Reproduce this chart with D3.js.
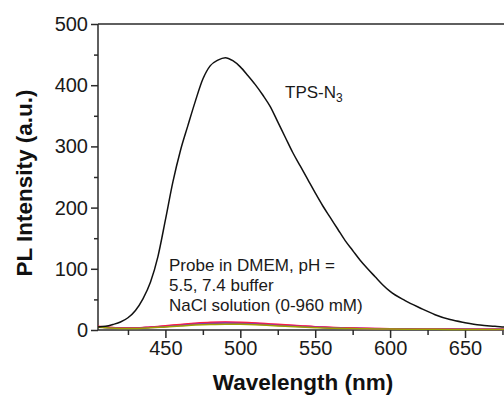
<!DOCTYPE html>
<html>
<head>
<meta charset="utf-8">
<script src="https://cdn.jsdelivr.net/npm/d3@7"></script>
<style>
  body { margin: 0; background: #fff; }
  svg { display: block; font-family: "Liberation Sans", Arial, sans-serif; }
</style>
</head>
<body>
<svg id="chart" width="504" height="396"></svg>
<script>
// wavelength grid (nm) and intensities
var wlMain = [405,410,415,420,425,430,435,440,445,450,455,460,465,470,475,480,485,490,495,500,
              505,510,515,520,525,530,535,540,545,550,555,560,565,570,575,580,585,590,595,600,
              610,620,630,640,650,660,670,680,690,700];
var tpsN3 = [5,6,9,13,20,32,51,78,120,180,242,293,334,374,410,432,441,445,440,430,
             416,401,384,365,340,315,290,268,246,224,203,184,165,146,130,114,100,87,74,63,
             48,36,25,17,12,8,6,4,3,3];

var wlProbe = [405,410,420,430,440,450,460,470,480,490,500,510,520,530,540,550,560,570,580,590,600,620,640,660,680,700];
var probeRed     = [6,5,3.5,3.5,5,7,9,11,12.5,13,12.5,11.5,10,8.5,7,5.5,4.5,3.5,3,2.5,2.2,1.8,1.5,1.3,1.1,1];
var probeMagenta = [5.5,4.5,3.5,3.5,4.5,6.5,8.5,10.5,12,12.5,12,11,9.5,8,6.5,5,4,3.2,2.7,2.3,2,1.6,1.4,1.2,1,1];
var probeBlue    = [5,4,3,3,4.5,6,8,10,11.5,12,11.5,10.5,9,7.5,6,4.8,3.8,3,2.5,2.1,1.9,1.5,1.3,1.1,1,0.9];
var probePurple  = [5,4,3,3,4,5.5,7.5,9.5,10.8,11.3,10.8,10,8.5,7,5.7,4.5,3.5,2.8,2.3,2,1.8,1.4,1.2,1,0.9,0.8];
var probeOlive   = [4.5,3.5,2.5,2.5,3.5,5,6.5,8,9,9.5,9.2,8.5,7.3,6,4.8,3.8,3,2.4,2,1.7,1.5,1.2,1,0.9,0.8,0.7];

var probeSeries = [
  {vals: probeBlue,    color: "#3a3ad8"},
  {vals: probeMagenta, color: "#e040e0"},
  {vals: probeRed,     color: "#ff1a40"},
  {vals: probePurple,  color: "#8a3aa8"},
  {vals: probeOlive,   color: "#a0a000"}
];

var yTicks = [0,100,200,300,400,500];
var yMinor = [50,150,250,350,450];
var xTicks = [450,500,550,600,650];
var xMinor = [425,475,525,575,625,675];

var svg = d3.select("#chart");
var mLeft = 98, mTop = 24, mBottom = 330;

var x = d3.scaleLinear().domain([405, 700]).range([mLeft, mLeft + 295 * 1.498]);
var y = d3.scaleLinear().domain([0, 500]).range([mBottom, mTop]);

var axisCol = "#2a2a2a";

// top frame line
svg.append("line")
  .attr("x1", x(405)).attr("x2", x(700))
  .attr("y1", y(500)).attr("y2", y(500))
  .attr("stroke", axisCol).attr("stroke-width", 1.5);

// y axis
var yAx = svg.append("g").attr("transform", "translate(" + mLeft + ",0)")
  .call(d3.axisLeft(y).tickValues(yTicks).tickSize(7).tickPadding(3).tickFormat(d3.format("d")));
svg.append("g").attr("transform", "translate(" + mLeft + ",0)")
  .call(d3.axisLeft(y).tickValues(yMinor).tickSize(4).tickFormat(""))
  .call(function(g){ g.select(".domain").remove(); });

// x axis
var xAx = svg.append("g").attr("transform", "translate(0," + mBottom + ")")
  .call(d3.axisBottom(x).tickValues(xTicks).tickSize(8).tickPadding(3).tickFormat(d3.format("d")));
svg.append("g").attr("transform", "translate(0," + mBottom + ")")
  .call(d3.axisBottom(x).tickValues(xMinor).tickSize(5).tickFormat(""))
  .call(function(g){ g.select(".domain").remove(); });

svg.selectAll(".domain, .tick line").attr("stroke", axisCol).attr("stroke-width", 1.5);
yAx.select(".domain").attr("d", "M0," + mBottom + "V" + mTop);
xAx.select(".domain").attr("d", "M" + mLeft + ",0H" + x(700));
svg.selectAll(".tick text").attr("font-size", 20).attr("fill", "#1a1a1a")
  .attr("font-family", "'Liberation Sans', Arial, sans-serif");

// curves
var lineP = d3.line().x(function(d){ return x(d[0]); }).y(function(d){ return y(d[1]); }).curve(d3.curveMonotoneX);

probeSeries.forEach(function(s){
  svg.append("path")
    .datum(wlProbe.map(function(w, i){ return [w, s.vals[i]]; }))
    .attr("d", lineP).attr("fill", "none")
    .attr("stroke", s.color).attr("stroke-width", 1.5);
});

svg.append("path")
  .datum(wlMain.map(function(w, i){ return [w, tpsN3[i]]; }))
  .attr("d", lineP).attr("fill", "none")
  .attr("stroke", "#111").attr("stroke-width", 1.5);

// labels
var lab = svg.append("text").attr("x", 285).attr("y", 98)
  .attr("font-size", 17).attr("fill", "#1a1a1a");
lab.append("tspan").text("TPS-N");
lab.append("tspan").attr("font-size", 12).attr("dy", 4).text("3");

var note = ["Probe in DMEM, pH =", "5.5, 7.4 buffer", "NaCl solution (0-960 mM)"];
svg.selectAll(".note").data(note).enter().append("text")
  .attr("class", "note")
  .attr("x", 169).attr("y", function(d, i){ return 271 + i * 20; })
  .attr("font-size", 17).attr("fill", "#1a1a1a")
  .text(function(d){ return d; });

svg.append("text")
  .attr("x", 303).attr("y", 390)
  .attr("text-anchor", "middle")
  .attr("font-size", 22.5).attr("font-weight", "bold").attr("fill", "#111")
  .text("Wavelength (nm)");

svg.append("text")
  .attr("transform", "translate(32,183) rotate(-90)")
  .attr("text-anchor", "middle")
  .attr("font-size", 22.5).attr("font-weight", "bold").attr("fill", "#111")
  .text("PL Intensity (a.u.)");
</script>
</body>
</html>
